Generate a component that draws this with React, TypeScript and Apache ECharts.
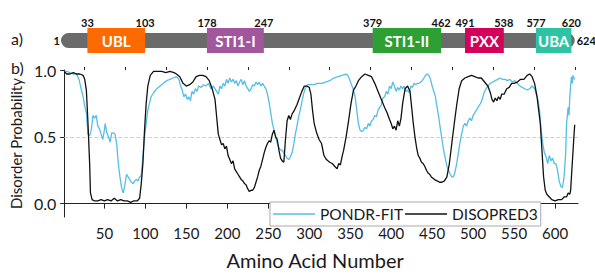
import React, { useEffect, useRef } from "react";
import * as echarts from "echarts";

const FONT = "Lato, 'Open Sans', sans-serif";

const domainNames = ["UBL", "STI1-I", "STI1-II", "PXX", "UBA"];
const domainStart = [33, 178, 379, 491, 577];
const domainEnd = [103, 247, 462, 538, 620];
const domainColors = ["#FF6A00", "#A2569E", "#2E9F32", "#D4005A", "#2EC3A3"];
const proteinRange = [1, 624];

const xTickLabels = [50, 100, 150, 200, 250, 300, 350, 400, 450, 500, 550, 600];
const xMinorTicks = [25, 75, 125, 175, 225, 275, 325, 375, 425, 475, 525, 575, 625];
const yTickLabels = [0, 0.5, 1];

const disopred3: [number, number][] = [
  [1,0.99],[4,0.97],[8,0.97],[12,0.98],[16,0.97],[20,0.97],[24,0.96],[26,0.93],[28,0.85],[30,0.6],[32,0.3],[33,0.08],[35,0.03],[38,0.02],[42,0.02],[46,0.03],[50,0.02],[54,0.03],[58,0.02],[62,0.04],[66,0.02],[70,0.03],[74,0.02],[78,0.02],[82,0.01],[86,0.02],[90,0.02],[93,0.04],[95,0.15],[97,0.3],[99,0.55],[101,0.75],[103,0.88],[106,0.96],[110,0.99],[115,0.99],[120,0.99],[125,0.98],[130,0.99],[135,0.98],[138,0.97],[142,0.95],[146,0.9],[150,0.88],[154,0.89],[158,0.91],[162,0.95],[166,0.96],[170,0.96],[174,0.95],[178,0.92],[182,0.85],[185,0.78],[187,0.65],[189,0.52],[191,0.48],[193,0.44],[195,0.45],[197,0.41],[199,0.43],[201,0.36],[203,0.33],[205,0.3],[207,0.32],[209,0.26],[211,0.24],[213,0.22],[215,0.2],[217,0.18],[219,0.17],[221,0.15],[223,0.14],[225,0.11],[227,0.09],[229,0.1],[231,0.1],[233,0.12],[235,0.16],[237,0.2],[239,0.25],[241,0.28],[243,0.33],[245,0.38],[247,0.42],[249,0.45],[251,0.47],[253,0.46],[255,0.52],[257,0.55],[259,0.5],[261,0.48],[263,0.4],[265,0.34],[267,0.32],[269,0.31],[271,0.48],[273,0.62],[275,0.66],[277,0.63],[279,0.67],[282,0.7],[285,0.74],[288,0.79],[291,0.84],[294,0.88],[297,0.88],[300,0.87],[302,0.82],[304,0.7],[306,0.6],[309,0.53],[312,0.48],[315,0.45],[318,0.36],[321,0.33],[325,0.31],[328,0.3],[331,0.28],[334,0.26],[336,0.3],[338,0.29],[340,0.35],[342,0.4],[345,0.5],[348,0.62],[351,0.75],[354,0.85],[357,0.88],[360,0.92],[364,0.95],[368,0.97],[372,0.96],[376,0.95],[380,0.9],[384,0.84],[388,0.78],[392,0.72],[395,0.68],[398,0.63],[400,0.6],[402,0.56],[404,0.58],[406,0.55],[408,0.62],[410,0.58],[412,0.64],[414,0.75],[417,0.86],[420,0.88],[423,0.84],[425,0.72],[427,0.6],[429,0.5],[431,0.42],[433,0.36],[435,0.34],[437,0.31],[439,0.3],[441,0.28],[443,0.25],[445,0.23],[447,0.22],[449,0.2],[451,0.19],[453,0.18],[456,0.17],[459,0.16],[462,0.16],[465,0.17],[468,0.2],[471,0.3],[474,0.45],[477,0.6],[480,0.74],[483,0.86],[486,0.92],[490,0.94],[494,0.95],[498,0.96],[502,0.95],[506,0.94],[510,0.94],[514,0.91],[518,0.88],[521,0.83],[523,0.78],[525,0.76],[527,0.79],[529,0.77],[531,0.8],[533,0.78],[535,0.82],[538,0.82],[541,0.86],[544,0.87],[547,0.9],[550,0.9],[554,0.91],[558,0.93],[562,0.93],[566,0.96],[569,0.97],[572,0.95],[575,0.9],[578,0.8],[580,0.7],[582,0.6],[584,0.4],[586,0.2],[588,0.1],[590,0.07],[593,0.05],[596,0.03],[600,0.02],[604,0.03],[608,0.03],[611,0.05],[614,0.05],[616,0.08],[618,0.07],[619,0.1],[621,0.3],[623,0.5],[624,0.59]
];

const pondrFit: [number, number][] = [
  [1,0.99],[4,0.99],[8,0.98],[12,0.97],[16,0.97],[19,0.93],[22,0.85],[24,0.8],[26,0.73],[28,0.68],[29,0.6],[30,0.52],[32,0.51],[34,0.55],[36,0.66],[38,0.64],[40,0.66],[42,0.58],[44,0.56],[46,0.52],[48,0.48],[50,0.55],[51,0.6],[53,0.53],[55,0.5],[57,0.46],[59,0.53],[61,0.53],[63,0.52],[65,0.45],[67,0.3],[69,0.2],[71,0.12],[73,0.08],[75,0.14],[77,0.22],[79,0.2],[81,0.18],[83,0.16],[85,0.15],[87,0.17],[89,0.18],[91,0.17],[93,0.2],[95,0.21],[97,0.35],[99,0.5],[101,0.6],[103,0.7],[105,0.75],[107,0.8],[110,0.83],[114,0.86],[118,0.88],[122,0.9],[126,0.92],[130,0.93],[134,0.94],[138,0.95],[141,0.93],[143,0.88],[145,0.85],[147,0.8],[149,0.82],[151,0.78],[153,0.8],[155,0.77],[157,0.84],[159,0.82],[161,0.86],[163,0.84],[165,0.88],[168,0.87],[171,0.89],[174,0.88],[177,0.9],[180,0.86],[183,0.88],[186,0.85],[189,0.82],[191,0.88],[193,0.86],[195,0.9],[197,0.88],[199,0.93],[201,0.9],[203,0.94],[205,0.91],[207,0.93],[209,0.9],[211,0.92],[213,0.88],[215,0.91],[217,0.93],[219,0.89],[221,0.92],[223,0.88],[225,0.86],[227,0.84],[229,0.86],[231,0.89],[233,0.88],[235,0.91],[237,0.89],[239,0.91],[241,0.88],[243,0.9],[245,0.88],[247,0.86],[249,0.82],[251,0.76],[253,0.68],[255,0.6],[257,0.55],[259,0.5],[261,0.45],[263,0.42],[265,0.4],[267,0.4],[269,0.38],[271,0.36],[273,0.34],[275,0.33],[277,0.35],[279,0.38],[281,0.44],[283,0.52],[285,0.58],[287,0.65],[289,0.7],[291,0.76],[293,0.82],[295,0.86],[298,0.89],[302,0.89],[306,0.89],[310,0.9],[315,0.9],[320,0.91],[325,0.92],[330,0.94],[335,0.95],[340,0.96],[345,0.97],[348,0.95],[351,0.9],[354,0.85],[356,0.8],[358,0.7],[360,0.6],[362,0.55],[364,0.54],[366,0.55],[368,0.57],[370,0.56],[372,0.6],[374,0.58],[376,0.62],[378,0.63],[380,0.66],[382,0.65],[384,0.7],[386,0.72],[388,0.74],[390,0.79],[392,0.8],[394,0.84],[396,0.82],[398,0.88],[400,0.86],[402,0.91],[404,0.88],[406,0.84],[408,0.87],[410,0.85],[412,0.88],[414,0.86],[416,0.88],[418,0.84],[420,0.85],[422,0.83],[424,0.88],[426,0.87],[428,0.9],[430,0.89],[432,0.9],[434,0.9],[436,0.91],[438,0.92],[440,0.94],[442,0.96],[444,0.97],[446,0.96],[448,0.93],[450,0.88],[452,0.84],[454,0.8],[456,0.72],[458,0.65],[460,0.56],[462,0.48],[464,0.4],[466,0.34],[468,0.28],[470,0.25],[472,0.22],[474,0.2],[476,0.2],[478,0.24],[480,0.3],[482,0.38],[484,0.46],[486,0.52],[488,0.58],[490,0.6],[492,0.58],[494,0.62],[496,0.64],[498,0.62],[500,0.66],[502,0.68],[504,0.7],[506,0.72],[508,0.74],[510,0.76],[512,0.8],[514,0.84],[516,0.86],[518,0.88],[521,0.9],[524,0.91],[527,0.92],[530,0.93],[533,0.94],[536,0.93],[539,0.93],[542,0.92],[545,0.93],[548,0.91],[551,0.92],[554,0.9],[557,0.88],[560,0.87],[563,0.86],[566,0.85],[569,0.86],[572,0.88],[575,0.86],[577,0.82],[579,0.78],[581,0.7],[583,0.55],[585,0.45],[587,0.38],[589,0.35],[591,0.3],[593,0.36],[595,0.32],[597,0.34],[599,0.3],[601,0.3],[603,0.25],[605,0.17],[607,0.13],[609,0.12],[611,0.2],[613,0.38],[614,0.6],[616,0.72],[617,0.66],[618,0.8],[619,0.88],[620,0.95],[621,0.9],[622,0.96],[623,0.94],[624,0.93]
];

export default function App() {
  const ref = useRef<HTMLDivElement>(null);
  useEffect(() => {
    document.body.style.margin = "0";
    if (!ref.current) return;
    const chart = echarts.init(ref.current, null, { renderer: "svg" });
    const X_MIN = 1;
    const X_MAX = 628;
    const textColor = "#1a1a1a";
    const option: any = {
      animation: false,
      backgroundColor: "#fff",
      grid: [
        { left: 61, top: 28, width: 517, height: 25 },
        { left: 61, top: 70, width: 517, height: 161.6 },
      ],
      xAxis: [
        { type: "value", gridIndex: 0, min: X_MIN, max: X_MAX, show: false },
        {
          type: "value",
          gridIndex: 1,
          min: X_MIN,
          max: X_MAX,
          axisLine: { lineStyle: { color: "#222", width: 1 } },
          axisTick: { customValues: xTickLabels, length: 5, lineStyle: { color: "#222" } },
          axisLabel: {
            customValues: xTickLabels,
            fontSize: 15,
            color: textColor,
            fontFamily: FONT,
            margin: 8,
          },
          splitLine: { show: false },
          name: "Amino Acid Number",
          nameLocation: "middle",
          nameGap: 33,
          nameTextStyle: { fontSize: 20, color: textColor, fontFamily: FONT, padding: [0, 12, 0, 0] },
        },
        {
          type: "value",
          gridIndex: 1,
          min: X_MIN,
          max: X_MAX,
          axisLine: { show: false },
          axisTick: { customValues: xMinorTicks, length: 3, lineStyle: { color: "#222" } },
          axisLabel: { show: false },
          splitLine: { show: false },
        },
      ],
      yAxis: [
        { type: "value", gridIndex: 0, min: 0, max: 1, show: false },
        {
          type: "value",
          gridIndex: 1,
          min: -0.1,
          max: 1.0,
          axisLine: { show: true, lineStyle: { color: "#222", width: 1 } },
          axisTick: { show: true, customValues: yTickLabels, length: 4, lineStyle: { color: "#222" } },
          axisLabel: {
            customValues: yTickLabels,
            formatter: (v: number) => v.toFixed(1),
            fontSize: 16,
            color: textColor,
            fontFamily: FONT,
            margin: 8,
          },
          splitLine: { show: false },
          name: "Disorder Probability",
          nameLocation: "middle",
          nameGap: 40,
          nameRotate: 90,
          nameTextStyle: { fontSize: 15, color: textColor, fontFamily: FONT, padding: [0, 0, 0, 0] },
        },
      ],
      legend: {
        left: 270,
        top: 202,
        orient: "horizontal",
        icon: "rect",
        itemWidth: 42,
        itemHeight: 1.5,
        itemGap: 2,
        padding: [4, 3, 4, 3],
        borderColor: "#aaa",
        borderWidth: 1,
        backgroundColor: "#fff",
        textStyle: { fontSize: 15.5, color: textColor, fontFamily: FONT },
        data: ["PONDR-FIT", "DISOPRED3"],
      },
      graphic: [
        { type: "text", left: 11, top: 30, style: { text: "a)", fontSize: 16, fill: textColor, fontFamily: FONT } },
        { type: "text", left: 11, top: 59, style: { text: "b)", fontSize: 16, fill: textColor, fontFamily: FONT } },
      ],
      series: [
        {
          type: "custom",
          xAxisIndex: 0,
          yAxisIndex: 0,
          clip: false,
          silent: true,
          z: 1,
          data: [[proteinRange[0], proteinRange[1]]],
          encode: { x: [0, 1] },
          renderItem: (params: any, api: any) => {
            const s = api.value(0);
            const e = api.value(1);
            const p0 = api.coord([s, 0]);
            const p1 = api.coord([e, 0]);
            const cs = params.coordSys;
            const cy = cs.y + cs.height / 2;
            return {
              type: "group",
              children: [
                {
                  type: "rect",
                  shape: { x: p0[0], y: cy - 7.5, width: p1[0] - p0[0], height: 15, r: 7.5 },
                  style: { fill: "#6b6b6b" },
                },
                {
                  type: "text",
                  style: {
                    text: String(s), x: p0[0] - 1, y: cy, align: "right", verticalAlign: "middle",
                    fill: "#111", fontSize: 11, fontWeight: "bold", fontFamily: FONT,
                  },
                },
                {
                  type: "text",
                  style: {
                    text: String(e), x: p1[0] + 2, y: cy, align: "left", verticalAlign: "middle",
                    fill: "#111", fontSize: 11, fontWeight: "bold", fontFamily: FONT,
                  },
                },
              ],
            };
          },
        },
        {
          type: "custom",
          xAxisIndex: 0,
          yAxisIndex: 0,
          clip: false,
          silent: true,
          z: 2,
          data: domainStart.map((s, i) => [s, domainEnd[i]]),
          encode: { x: [0, 1] },
          renderItem: (params: any, api: any) => {
            const i = params.dataIndex;
            const s = api.value(0);
            const e = api.value(1);
            const p0 = api.coord([s, 0]);
            const p1 = api.coord([e, 0]);
            const cs = params.coordSys;
            const numStyle = { fill: "#111", fontSize: 11, fontWeight: "bold", fontFamily: FONT, align: "center", verticalAlign: "middle" };
            return {
              type: "group",
              children: [
                {
                  type: "rect",
                  shape: { x: p0[0], y: cs.y, width: p1[0] - p0[0], height: cs.height },
                  style: { fill: domainColors[i] },
                },
                {
                  type: "text",
                  style: {
                    text: domainNames[i], x: (p0[0] + p1[0]) / 2, y: cs.y + cs.height / 2 + 0.5,
                    align: "center", verticalAlign: "middle", fill: "#fff",
                    fontSize: 15, fontWeight: "bold", fontFamily: FONT,
                  },
                },
                { type: "text", style: { ...numStyle, text: String(s), x: p0[0], y: cs.y - 6 } },
                { type: "text", style: { ...numStyle, text: String(e), x: p1[0], y: cs.y - 6 } },
              ],
            };
          },
        },
        {
          name: "PONDR-FIT",
          type: "line",
          xAxisIndex: 1,
          yAxisIndex: 1,
          data: pondrFit,
          showSymbol: false,
          symbol: "none",
          lineStyle: { color: "#55BEE6", width: 1.3 },
          itemStyle: { color: "#55BEE6" },
          z: 3,
          markLine: {
            silent: true,
            symbol: "none",
            label: { show: false },
            lineStyle: { type: "dashed", color: "#cfcfcf", width: 1 },
            data: [{ yAxis: 0.5 }],
            z: 1,
          },
        },
        {
          name: "DISOPRED3",
          type: "line",
          xAxisIndex: 1,
          yAxisIndex: 1,
          data: disopred3,
          showSymbol: false,
          symbol: "none",
          lineStyle: { color: "#111", width: 1.3 },
          itemStyle: { color: "#111" },
          z: 4,
        },
      ],
    };
    chart.setOption(option);
    return () => chart.dispose();
  }, []);
  return <div ref={ref} style={{ width: 595, height: 275 }} />;
}
